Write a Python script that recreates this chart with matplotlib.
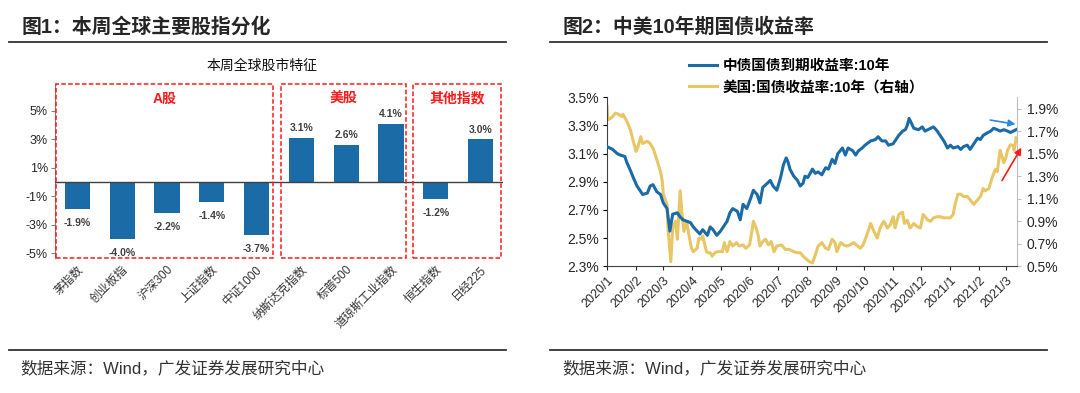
import matplotlib
matplotlib.use("Agg")
import matplotlib.pyplot as plt
import matplotlib.dates as mdates
from matplotlib.patches import Rectangle
from matplotlib.lines import Line2D
import pandas as pd

plt.rcParams['font.family'] = ['Liberation Sans', 'Noto Sans CJK SC', 'DejaVu Sans']

# ---- left chart: weekly change of major indices (%)
index_names = ["茅指数", "创业板指", "沪深300", "上证指数", "中证1000",
               "纳斯达克指数", "标普500", "道琼斯工业指数", "恒生指数", "日经225"]
weekly_change = [-1.9, -4.0, -2.2, -1.4, -3.7, 3.1, 2.6, 4.1, -1.2, 3.0]
group_names = ["A股", "美股", "其他指数"]
group_first = [0, 5, 8]
group_last = [4, 7, 9]

# ---- right chart: 10y government bond yields (%)
cn_dates = ["2020-01-01", "2020-01-07", "2020-01-12", "2020-01-15", "2020-01-20", "2020-01-22",
            "2020-01-26", "2020-01-29", "2020-02-02", "2020-02-05", "2020-02-08", "2020-02-13",
            "2020-02-16", "2020-02-19", "2020-02-23", "2020-02-27", "2020-03-01", "2020-03-05",
            "2020-03-08", "2020-03-11", "2020-03-16", "2020-03-19", "2020-03-22", "2020-03-26",
            "2020-03-30", "2020-04-02", "2020-04-06", "2020-04-09", "2020-04-12", "2020-04-17",
            "2020-04-20", "2020-04-23", "2020-04-27", "2020-05-01", "2020-05-04", "2020-05-08",
            "2020-05-11", "2020-05-14", "2020-05-19", "2020-05-22", "2020-05-25", "2020-05-29",
            "2020-06-02", "2020-06-05", "2020-06-09", "2020-06-12", "2020-06-15", "2020-06-20",
            "2020-06-23", "2020-06-26", "2020-06-30", "2020-07-04", "2020-07-07", "2020-07-10",
            "2020-07-12", "2020-07-14", "2020-07-18", "2020-07-22", "2020-07-25", "2020-07-28",
            "2020-07-30", "2020-08-02", "2020-08-07", "2020-08-10", "2020-08-13", "2020-08-17",
            "2020-08-21", "2020-08-24", "2020-08-28", "2020-08-31", "2020-09-03", "2020-09-08",
            "2020-09-11", "2020-09-14", "2020-09-19", "2020-09-22", "2020-09-25", "2020-09-29",
            "2020-10-02", "2020-10-08", "2020-10-13", "2020-10-16", "2020-10-20", "2020-10-24",
            "2020-10-27", "2020-11-01", "2020-11-07", "2020-11-11", "2020-11-14", "2020-11-16",
            "2020-11-18", "2020-11-23", "2020-11-28", "2020-12-02", "2020-12-05", "2020-12-11",
            "2020-12-14", "2020-12-18", "2020-12-21", "2020-12-25", "2020-12-29", "2021-01-01",
            "2021-01-04", "2021-01-09", "2021-01-12", "2021-01-15", "2021-01-19", "2021-01-22",
            "2021-01-26", "2021-01-30", "2021-02-02", "2021-02-05", "2021-02-10", "2021-02-13",
            "2021-02-16", "2021-02-20", "2021-02-23", "2021-02-27", "2021-03-03", "2021-03-06",
            "2021-03-09", "2021-03-12"]
cn_yield = [3.15, 3.13, 3.10, 3.09, 3.08, 3.04,
            2.98, 2.93, 2.87, 2.84, 2.81, 2.82,
            2.87, 2.88, 2.83, 2.81, 2.75, 2.71,
            2.55, 2.67, 2.68, 2.65, 2.63, 2.62,
            2.61, 2.58, 2.55, 2.53, 2.56, 2.52,
            2.58, 2.56, 2.52, 2.55, 2.58, 2.62,
            2.68, 2.71, 2.69, 2.63, 2.74, 2.71,
            2.78, 2.84, 2.81, 2.75, 2.86, 2.89,
            2.91, 2.87, 2.84, 2.93, 3.02, 3.07,
            3.04, 2.99, 2.94, 2.91, 2.87, 2.89,
            2.94, 2.93, 2.99, 2.96, 2.97, 2.95,
            3.00, 2.99, 3.06, 3.03, 3.10, 3.14,
            3.09, 3.14, 3.12, 3.09, 3.12, 3.14,
            3.16, 3.19, 3.20, 3.22, 3.19, 3.19,
            3.16, 3.17, 3.23, 3.26, 3.27, 3.30,
            3.35, 3.28, 3.27, 3.29, 3.26, 3.28,
            3.29, 3.26, 3.23, 3.19, 3.14, 3.16,
            3.14, 3.15, 3.13, 3.15, 3.16, 3.13,
            3.17, 3.21, 3.20, 3.23, 3.25, 3.26,
            3.28, 3.27, 3.26, 3.27, 3.26, 3.25,
            3.26, 3.27]

us_dates = ["2020-01-01", "2020-01-02", "2020-01-06", "2020-01-10", "2020-01-13", "2020-01-17",
            "2020-01-18", "2020-01-22", "2020-01-26", "2020-01-29", "2020-02-01", "2020-02-03",
            "2020-02-06", "2020-02-08", "2020-02-13", "2020-02-16", "2020-02-19", "2020-02-23",
            "2020-02-27", "2020-02-29", "2020-03-01", "2020-03-05", "2020-03-06", "2020-03-09",
            "2020-03-11", "2020-03-14", "2020-03-16", "2020-03-19", "2020-03-21", "2020-03-23",
            "2020-03-26", "2020-03-27", "2020-03-31", "2020-04-02", "2020-04-06", "2020-04-08",
            "2020-04-11", "2020-04-12", "2020-04-16", "2020-04-18", "2020-04-20", "2020-04-22",
            "2020-04-25", "2020-04-28", "2020-05-03", "2020-05-05", "2020-05-08", "2020-05-11",
            "2020-05-14", "2020-05-18", "2020-05-21", "2020-05-25", "2020-05-28", "2020-06-01",
            "2020-06-04", "2020-06-05", "2020-06-08", "2020-06-10", "2020-06-12", "2020-06-15",
            "2020-06-18", "2020-06-21", "2020-06-24", "2020-06-27", "2020-06-30", "2020-07-05",
            "2020-07-09", "2020-07-13", "2020-07-18", "2020-07-22", "2020-07-25", "2020-07-28",
            "2020-08-01", "2020-08-04", "2020-08-07", "2020-08-10", "2020-08-13", "2020-08-17",
            "2020-08-21", "2020-08-24", "2020-08-28", "2020-08-31", "2020-09-02", "2020-09-06",
            "2020-09-09", "2020-09-13", "2020-09-16", "2020-09-20", "2020-09-24", "2020-09-27",
            "2020-09-30", "2020-10-04", "2020-10-08", "2020-10-11", "2020-10-15", "2020-10-18",
            "2020-10-22", "2020-10-26", "2020-10-29", "2020-11-01", "2020-11-03", "2020-11-07",
            "2020-11-11", "2020-11-13", "2020-11-16", "2020-11-19", "2020-11-23", "2020-11-27",
            "2020-11-30", "2020-12-03", "2020-12-08", "2020-12-11", "2020-12-14", "2020-12-18",
            "2020-12-21", "2020-12-25", "2020-12-29", "2021-01-01", "2021-01-04", "2021-01-06",
            "2021-01-09", "2021-01-12", "2021-01-15", "2021-01-19", "2021-01-22", "2021-01-26",
            "2021-01-30", "2021-02-02", "2021-02-05", "2021-02-07", "2021-02-11", "2021-02-15",
            "2021-02-18", "2021-02-20", "2021-02-23", "2021-02-27", "2021-03-01", "2021-03-03",
            "2021-03-06", "2021-03-09", "2021-03-10", "2021-03-12"]
us_yield = [1.92, 1.80, 1.82, 1.86, 1.85, 1.83,
            1.85, 1.79, 1.71, 1.61, 1.52, 1.56,
            1.65, 1.59, 1.61, 1.59, 1.55, 1.45,
            1.34, 1.25, 1.14, 1.05, 0.84, 0.54,
            0.84, 0.90, 0.74, 1.17, 0.96, 0.81,
            0.90, 0.84, 0.66, 0.63, 0.66, 0.75,
            0.74, 0.77, 0.63, 0.62, 0.62, 0.59,
            0.62, 0.63, 0.63, 0.71, 0.63, 0.72,
            0.68, 0.71, 0.68, 0.69, 0.66, 0.69,
            0.84, 0.90, 0.84, 0.78, 0.68, 0.72,
            0.74, 0.69, 0.72, 0.63, 0.68, 0.69,
            0.65, 0.65, 0.63, 0.62, 0.62, 0.59,
            0.56, 0.54, 0.53, 0.60, 0.68, 0.71,
            0.66, 0.65, 0.74, 0.71, 0.63, 0.71,
            0.69, 0.68, 0.69, 0.71, 0.68, 0.66,
            0.69, 0.78, 0.88, 0.82, 0.75, 0.84,
            0.90, 0.84, 0.87, 0.94, 0.84, 0.96,
            0.98, 0.88, 0.91, 0.84, 0.88, 0.85,
            0.84, 0.96, 0.91, 0.90, 0.93, 0.94,
            0.94, 0.93, 0.93, 0.93, 0.96, 1.05,
            1.14, 1.14, 1.12, 1.12, 1.09, 1.05,
            1.09, 1.12, 1.19, 1.17, 1.19, 1.30,
            1.36, 1.34, 1.53, 1.42, 1.46, 1.53,
            1.58, 1.57, 1.53, 1.64]

cn_label = "中债国债到期收益率:10年"
us_label = "美国:国债收益率:10年（右轴）"

blue = "#1b6ba7"
yellow = "#e8c665"
dark = "#262626"

fig = plt.figure(figsize=(10.8, 3.93), dpi=100)

# ---- headers / footers
fig.text(22 / 1080, 1 - 27 / 393, "图1：本周全球主要股指分化", fontsize=14.3, fontweight="bold",
         color=dark, va="center", ha="left")
fig.text(563 / 1080, 1 - 27 / 393, "图2：中美10年期国债收益率", fontsize=14.3, fontweight="bold",
         color=dark, va="center", ha="left")
for x0, x1 in [(9, 506), (550, 1047)]:
    fig.add_artist(Line2D([x0 / 1080, x1 / 1080], [1 - 42 / 393] * 2, color="#333333", lw=1.3))
    fig.add_artist(Line2D([x0 / 1080, x1 / 1080], [1 - 350 / 393] * 2, color="#333333", lw=1.3))
fig.text(20 / 1080, 1 - 368 / 393, "数据来源：Wind，广发证券发展研究中心", fontsize=12,
         color="#333333", va="center", ha="left")
fig.text(562 / 1080, 1 - 368 / 393, "数据来源：Wind，广发证券发展研究中心", fontsize=12,
         color="#333333", va="center", ha="left")
fig.text(262 / 1080, 1 - 66 / 393, "本周全球股市特征", fontsize=10, color="#111111",
         va="center", ha="center")

# ---- left chart
ax1 = fig.add_axes([55 / 1080, 1 - 258 / 393, 448 / 1080, 174 / 393])
pos = list(range(len(index_names)))
ax1.bar(pos, weekly_change, width=0.56, color=blue, zorder=2)
ax1.axhline(0, color="#404040", lw=1, zorder=3)
ax1.set_xlim(-0.5, 9.5)
ax1.set_ylim(-5.33, 6.88)
ax1.set_yticks([-5, -3, -1, 1, 3, 5])
ax1.set_yticklabels([f"{v}%" for v in [-5, -3, -1, 1, 3, 5]], fontsize=9, color=dark)
ax1.set_xticks(pos)
ax1.set_xticklabels(index_names, rotation=45, ha="right", rotation_mode="anchor",
                    fontsize=8.5, color="#333333")
ax1.tick_params(axis="x", length=0, pad=4)
ax1.tick_params(axis="y", length=3, color="#808080", pad=2)
for s in ["top", "right", "bottom"]:
    ax1.spines[s].set_visible(False)
ax1.spines["left"].set_color("#808080")
for p, v in zip(pos, weekly_change):
    off = 7 if v > 0 else -10
    ax1.annotate(f"{v:.1f}%", (p, v), xytext=(0, off), textcoords="offset points",
                 ha="center", va="center", fontsize=7.5, fontweight="bold", color="#404040")

pads = [(0.48, 0.37), (0.46, 0.34), (0.5, 0.46)]
for name, a, b, (pl, pr) in zip(group_names, group_first, group_last, pads):
    rect = Rectangle((a - pl, 0.0), (b + pr) - (a - pl), 1.0,
                     transform=ax1.get_xaxis_transform(), fill=False,
                     edgecolor="#ff1a1a", linestyle=(0, (3, 1.5)), lw=1.1, clip_on=False, zorder=4)
    ax1.add_patch(rect)
    ax1.text(((a - pl) + (b + pr)) / 2, 0.915, name, transform=ax1.get_xaxis_transform(),
             ha="center", va="center", fontsize=10, fontweight="bold", color="#ff1a1a")

# ---- right chart
ax2 = fig.add_axes([607 / 1080, 1 - 266.3 / 393, 410 / 1080, 169 / 393])
ax3 = ax2.twinx()
l1, = ax2.plot(pd.to_datetime(cn_dates), cn_yield, color=blue, lw=2.2, zorder=3)
l2, = ax3.plot(pd.to_datetime(us_dates), us_yield, color=yellow, lw=2.2, zorder=2)
ax2.set_zorder(ax3.get_zorder() + 1)
ax2.patch.set_visible(False)

ax2.set_xlim(pd.Timestamp("2020-01-01"), pd.Timestamp("2021-03-13"))
ax2.set_ylim(2.3, 3.5)
ax3.set_ylim(0.5, 2.0)
lt = [2.3, 2.5, 2.7, 2.9, 3.1, 3.3, 3.5]
rt = [0.5, 0.7, 0.9, 1.1, 1.3, 1.5, 1.7, 1.9]
ax2.set_yticks(lt)
ax2.set_yticklabels([f"{v:.1f}%" for v in lt], fontsize=10, color=dark)
ax3.set_yticks(rt)
ax3.set_yticklabels([f"{v:.1f}%" for v in rt], fontsize=10, color=dark)
ax2.xaxis.set_major_locator(mdates.MonthLocator())
ax2.xaxis.set_major_formatter(plt.FuncFormatter(
    lambda v, _: f"{mdates.num2date(v).year}/{mdates.num2date(v).month}"))
for lab in ax2.get_xticklabels():
    lab.set_rotation(45)
    lab.set_ha("right")
    lab.set_rotation_mode("anchor")
ax2.tick_params(axis="x", labelsize=9, colors=dark, length=3, pad=3)
ax2.tick_params(axis="y", length=3, pad=3)
ax3.tick_params(axis="y", length=3, color="#bfbfbf", pad=4)
for a in (ax2, ax3):
    a.spines["top"].set_visible(False)
ax2.spines["right"].set_visible(False)
ax3.spines["left"].set_visible(False)
ax3.spines["bottom"].set_visible(False)
ax3.spines["right"].set_color("#bfbfbf")
ax2.spines["left"].set_color("#404040")
ax2.spines["bottom"].set_color("#404040")

ax2.legend([l1, l2], [cn_label, us_label], loc="upper left",
           bbox_to_anchor=(689 / 1080, 1 - 59 / 393), bbox_transform=fig.transFigure,
           frameon=False, borderpad=0, borderaxespad=0, handlelength=1.9,
           handletextpad=0.4, labelspacing=0.5, prop={"size": 10.5, "weight": "bold"})

ax3.annotate("", xy=(1.003, 0.838), xytext=(0.928, 0.868), xycoords="axes fraction",
             arrowprops=dict(arrowstyle="-|>", color="#2a8bd2", lw=1.2), annotation_clip=False)
ax3.annotate("", xy=(1.014, 0.716), xytext=(0.960, 0.493), xycoords="axes fraction",
             arrowprops=dict(arrowstyle="-|>", color="#ff1a1a", lw=1.2), annotation_clip=False)

fig.savefig("out.png", dpi=100)
